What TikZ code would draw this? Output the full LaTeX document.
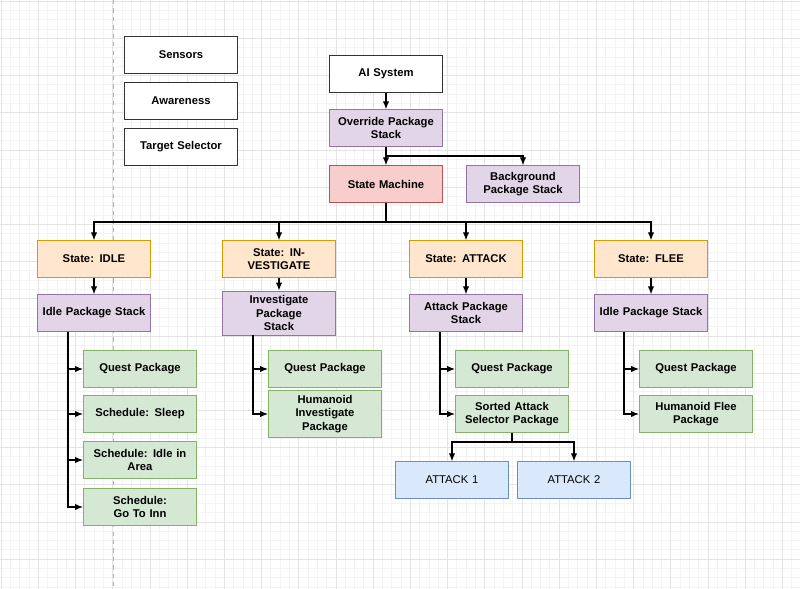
\documentclass[tikz,border=0pt]{standalone}
\usepackage{fontspec}
\setmainfont{Liberation Sans}
\usetikzlibrary{arrows.meta,positioning}
\definecolor{gridminor}{RGB}{243,243,243}
\definecolor{gridmajor}{RGB}{228,228,228}
\definecolor{orangefill}{HTML}{FFE6CC}\definecolor{orangeline}{HTML}{D79B00}
\definecolor{purplefill}{HTML}{E1D5E7}\definecolor{purpleline}{HTML}{9673A6}
\definecolor{redfill}{HTML}{F8CECC}\definecolor{redline}{HTML}{B85450}
\definecolor{greenfill}{HTML}{D5E8D4}\definecolor{greenline}{HTML}{82B366}
\definecolor{bluefill}{HTML}{DAE8FC}\definecolor{blueline}{HTML}{6C8EBF}
\tikzset{
  block/.style={draw, rectangle, minimum height=0.92cm, minimum width=2.77cm,
    align=center, font=\fontsize{8}{9.5}\selectfont\bfseries, text width=2.6cm},
  plain/.style={block, fill=white, draw=black!80, minimum width=2.6cm},
  state/.style={block, fill=orangefill, draw=orangeline},
  stack/.style={block, fill=purplefill, draw=purpleline},
  machine/.style={block, fill=redfill, draw=redline, minimum width=2.6cm},
  package/.style={block, fill=greenfill, draw=greenline},
  attack/.style={block, fill=bluefill, draw=blueline, font=\fontsize{8}{9.5}\selectfont},
  link/.style={-{Latex[length=2mm,width=1.6mm]}, thick, black}
}
\begin{document}
\begin{tikzpicture}[x=0.025cm,y=-0.025cm]
\useasboundingbox (0,0) rectangle (800,589);
%% Grid %%
\foreach \i in {0,...,86} \draw[gridminor, line width=0.3pt] (\i*9.3+1,0) -- (\i*9.3+1,589);
\foreach \i in {0,...,63} \draw[gridminor, line width=0.3pt] (0,\i*9.3+1) -- (800,\i*9.3+1);
\foreach \i in {0,...,21} \draw[gridmajor, line width=0.4pt] (\i*37.2+1,0) -- (\i*37.2+1,589);
\foreach \i in {0,...,15} \draw[gridmajor, line width=0.4pt] (0,\i*37.2+1) -- (800,\i*37.2+1);
\draw[black!30, dashed, line width=0.4pt] (113,0) -- (113,589);

%% Modules %%
\node [plain] (Sensors) at (181,55) {Sensors};
\node [plain] (Awareness) at (181,101) {Awareness};
\node [plain] (TargetSelector) at (181,147) {Target Selector};

%% Top %%
\node [plain] (AISystem) at (386,74) {AI System};
\node [stack, minimum width=2.6cm] (Override) at (386,128) {Override Package\\Stack};
\node [machine] (StateMachine) at (386,184) {State Machine};
\node [stack] (Background) at (523,184) {Background\\Package Stack};

%% States %%
\node [state] (Idle) at (94,259) {State: IDLE};
\node [state] (Investigate) at (279,259) {State: INVESTIGATE};
\node [state] (Attack) at (466,259) {State: ATTACK};
\node [state] (Flee) at (651,259) {State: FLEE};

\node [stack] (IdleStack) at (94,313) {Idle Package Stack};
\node [stack] (InvestigateStack) at (279,313) {Investigate Package\\Stack};
\node [stack] (AttackStack) at (466,313) {Attack Package\\Stack};
\node [stack] (FleeStack) at (651,313) {Idle Package Stack};

%% Packages %%
\node [package] (IdleQuest) at (140,369) {Quest Package};
\node [package] (IdleSleep) at (140,414) {Schedule: Sleep};
\node [package] (IdleArea) at (140,460) {Schedule: Idle in\\Area};
\node [package] (IdleInn) at (140,507) {Schedule: Go To Inn};
\node [package] (InvQuest) at (325,369) {Quest Package};
\node [package] (InvHumanoid) at (325,414) {Humanoid\\Investigate Package};
\node [package] (AttQuest) at (512,369) {Quest Package};
\node [package] (AttSorted) at (512,414) {Sorted Attack\\Selector Package};
\node [package] (FleeQuest) at (696,369) {Quest Package};
\node [package] (FleeHumanoid) at (696,414) {Humanoid Flee\\Package};

\node [attack] (AttackOne) at (452,480) {ATTACK 1};
\node [attack] (AttackTwo) at (574,480) {ATTACK 2};

%% Forbindelse %%
\draw[link] (AISystem) -- (Override);
\draw[link] (Override) -- (StateMachine);
\draw[link] (386,156) -| (Background);
\foreach \s in {Idle,Investigate,Attack,Flee}
  \draw[link] (StateMachine.south) -- (386,222) -| (\s.north);
\foreach \s in {Idle,Investigate,Attack,Flee}
  \draw[link] (\s) -- (\s Stack);
\foreach \p in {IdleQuest,IdleSleep,IdleArea,IdleInn}
  \draw[link] (IdleStack.south -| 68,0) |- (\p.west);
\foreach \p in {InvQuest,InvHumanoid}
  \draw[link] (InvestigateStack.south -| 253,0) |- (\p.west);
\foreach \p in {AttQuest,AttSorted}
  \draw[link] (AttackStack.south -| 440,0) |- (\p.west);
\foreach \p in {FleeQuest,FleeHumanoid}
  \draw[link] (FleeStack.south -| 624,0) |- (\p.west);
\draw[link] (AttSorted.south) -- (512,442) -| (AttackOne.north);
\draw[link] (512,442) -| (AttackTwo.north);
\end{tikzpicture}
\end{document}
